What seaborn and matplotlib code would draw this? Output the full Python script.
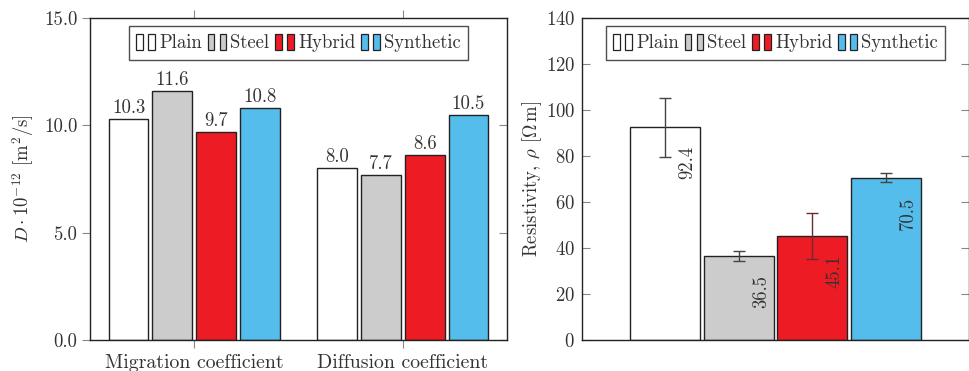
import numpy as np
import pandas as pd
import matplotlib
matplotlib.use("Agg")
import matplotlib.pyplot as plt
import seaborn as sns
from matplotlib.patches import Patch
from matplotlib.legend_handler import HandlerTuple
from matplotlib.ticker import FormatStrFormatter, MultipleLocator

# ---- data ----
fibers = ["Plain", "Steel", "Hybrid", "Synthetic"]
coef_categories = ["Migration coefficient", "Diffusion coefficient"]
migration = [10.3, 11.6, 9.7, 10.8]
diffusion = [8.0, 7.7, 8.6, 10.5]
resistivity = [92.4, 36.5, 45.1, 70.5]
resistivity_err = [13.0, 2.0, 10.0, 2.0]

colors = ["#ffffff", "#cccccc", "#ed1c24", "#55bdec"]
err_colors = ["#444444", "#444444", "#6e2a2e", "#444444"]

sns.set_theme(style="white")
plt.rcParams.update({
    "font.family": ["cmr10", "DejaVu Serif"],
    "mathtext.fontset": "cm",
    "axes.unicode_minus": False,
    "axes.formatter.use_mathtext": True,
    "font.size": 13.5,
})

TXT = "#333333"
SPINE = "#222222"
FS = 13.5

fig = plt.figure(figsize=(9.70, 3.71), dpi=100)
ax1 = fig.add_axes([90 / 970, 1 - 340 / 371, (507 - 90) / 970, (340 - 18) / 371])
ax2 = fig.add_axes([582 / 970, 1 - 340 / 371, (969 - 582) / 970, (340 - 18) / 371])

# ---- left chart ----
df1 = pd.DataFrame({
    "coef": [coef_categories[0]] * 4 + [coef_categories[1]] * 4,
    "fiber": fibers * 2,
    "value": migration + diffusion,
})
sns.barplot(data=df1, x="coef", y="value", hue="fiber", order=coef_categories,
            hue_order=fibers, palette=colors, width=0.84, gap=0.09,
            edgecolor=SPINE, linewidth=1.0, saturation=1, legend=False, ax=ax1)
for cont in ax1.containers:
    ax1.bar_label(cont, fmt="%.1f", padding=1.5, fontsize=FS, color=TXT)

ax1.set_xlim(-0.5, 1.5)
ax1.set_ylim(0, 15)
ax1.yaxis.set_major_locator(MultipleLocator(5))
ax1.yaxis.set_major_formatter(FormatStrFormatter("%.1f"))
ax1.set_xlabel("")
ax1.set_ylabel(r"$D\cdot 10^{-12}$ [m$^2$/s]", fontsize=FS, color=TXT, labelpad=6)
ax1.tick_params(axis="x", direction="out", length=6, width=0.8, color="#888888",
                top=True, bottom=True, labelsize=14.3, labelcolor=TXT, pad=4)
ax1.tick_params(axis="y", which="both", left=True, right=False, direction="out",
                length=6, width=0.8, color="#888888", labelsize=FS, labelcolor=TXT, pad=3)
ax1r = ax1.secondary_yaxis("right")
ax1r.yaxis.set_major_locator(MultipleLocator(5))
ax1r.tick_params(axis="y", direction="in", length=6, width=0.8, color="#888888", labelright=False)
ax1r.spines["right"].set_visible(False)

# ---- right chart ----
df2 = pd.DataFrame({"group": ["r"] * 4, "fiber": fibers, "value": resistivity})
sns.barplot(data=df2, x="group", y="value", hue="fiber", hue_order=fibers,
            palette=colors, width=0.76, gap=0.05, edgecolor=SPINE, linewidth=1.0,
            saturation=1, legend=False, ax=ax2)
bars = [c.patches[0] for c in ax2.containers]
for bar, val, err, ec in zip(bars, resistivity, resistivity_err, err_colors):
    xc = bar.get_x() + bar.get_width() / 2
    ax2.errorbar(xc, val, yerr=err, color=ec, capsize=4, capthick=1.0,
                 elinewidth=1.0, fmt="none")
    ax2.annotate(f"{val:.1f}", xy=(xc, val), xytext=(16, -13.5),
                 textcoords="offset points", rotation=90, ha="center", va="top",
                 fontsize=FS, color=TXT)

ax2.set_xlim(-0.5, 0.5)
ax2.set_ylim(0, 140)
ax2.yaxis.set_major_locator(MultipleLocator(20))
ax2.set_xticks([])
ax2.set_xlabel("")
ax2.set_ylabel(r"Resistivity, $\rho$ [$\Omega\,$m]", fontsize=FS, color=TXT, labelpad=1)
ax2.tick_params(axis="y", left=True, right=True, direction="in", length=6, width=0.8,
                color="#888888", labelsize=FS, labelcolor=TXT, pad=5)

for ax in (ax1, ax2):
    for s in ax.spines.values():
        s.set_visible(True)
        s.set_color(SPINE)
        s.set_linewidth(1.0)

# ---- legends ----
def make_handles():
    return [(Patch(facecolor=c, edgecolor=SPINE, linewidth=0.9),
             Patch(facecolor=c, edgecolor=SPINE, linewidth=0.9)) for c in colors]

for ax in (ax1, ax2):
    leg = ax.legend(make_handles(), fibers, loc="upper center", ncol=4,
                    bbox_to_anchor=(0.5, 1.0),
                    handler_map={tuple: HandlerTuple(ndivide=None, pad=0.3)},
                    handlelength=1.0, handleheight=0.95, handletextpad=0.22,
                    columnspacing=0.3, borderpad=0.4, borderaxespad=0.45,
                    frameon=True, fancybox=False, fontsize=FS,
                    labelcolor=TXT)
    leg.get_frame().set_edgecolor(SPINE)
    leg.get_frame().set_linewidth(1.0)

fig.savefig("out.png", dpi=100)
